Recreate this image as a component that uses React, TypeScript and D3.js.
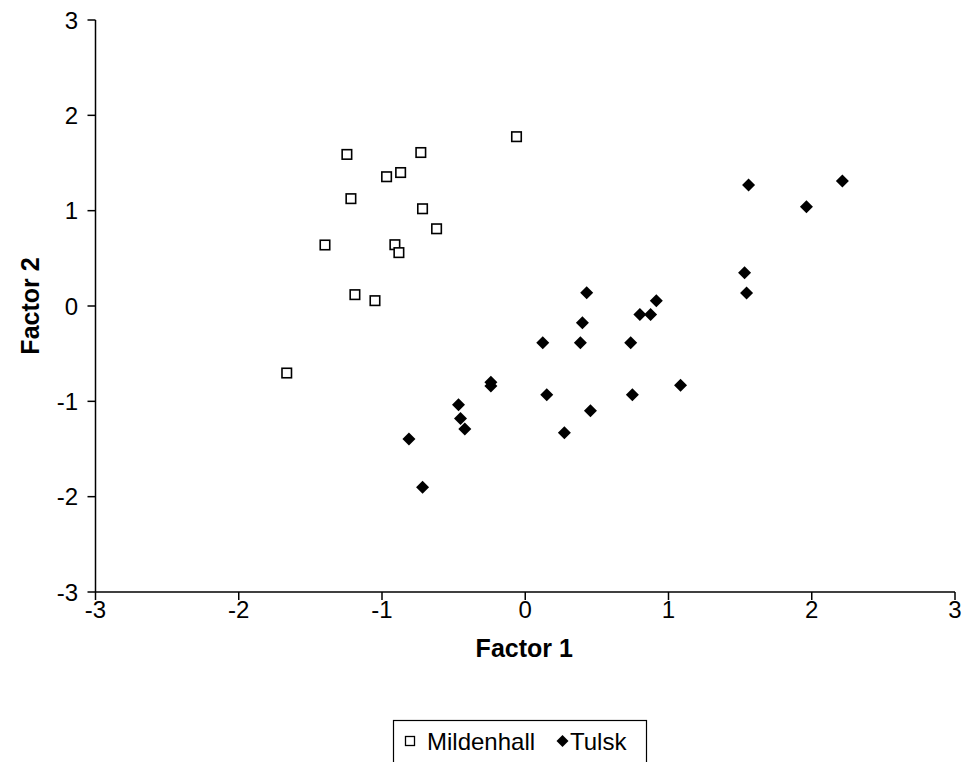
import React from 'react';
import * as d3 from 'd3';

// Factor scores
const mildenhallX = [-0.061, -1.245, -0.729, -0.968, -0.87, -1.217, -0.717, -0.619, -1.398, -0.91, -0.882, -1.189, -1.049, -1.665];
const mildenhallY = [1.776, 1.59, 1.61, 1.356, 1.4, 1.126, 1.02, 0.81, 0.64, 0.643, 0.56, 0.119, 0.056, -0.703];

const tulskX = [0.429, 0.915, 0.399, 0.8, 0.875, 0.122, 0.385, 0.736, -0.24, -0.24, 1.084, 0.15, 0.748, -0.466, 0.455, -0.452, -0.422, 0.273, -0.812, -0.717, 1.559, 2.214, 1.963, 1.531, 1.545];
const tulskY = [0.14, 0.056, -0.175, -0.09, -0.09, -0.385, -0.385, -0.385, -0.8, -0.84, -0.83, -0.93, -0.93, -1.035, -1.1, -1.18, -1.29, -1.33, -1.395, -1.9, 1.27, 1.31, 1.04, 0.35, 0.136];

const ticks = [-3, -2, -1, 0, 1, 2, 3];
const seriesNames = ['Mildenhall', 'Tulsk'];

const W = 962;
const H = 762;
const FONT = '"Liberation Sans", Arial, sans-serif';

const App = () => {
  const x = d3.scaleLinear().domain([-3, 3]).range([95.5, 955]);
  const y = d3.scaleLinear().domain([-3, 3]).range([592, 20]);

  const diamond = (cx: number, cy: number, r = 6.5) =>
    `M${cx},${cy - r}L${cx + r},${cy}L${cx},${cy + r}L${cx - r},${cy}Z`;

  return (
    <svg width={W} height={H} style={{ position: 'absolute', left: 0, top: 0, background: '#fff' }} fontFamily={FONT}>
      <rect width={W} height={H} fill="#fff" />

      {/* axes */}
      <line x1={x(-3)} x2={x(-3)} y1={y(3)} y2={y(-3)} stroke="#000" strokeWidth={1.5} />
      <line x1={x(-3)} x2={x(3)} y1={y(-3)} y2={y(-3)} stroke="#000" strokeWidth={1.5} />

      {ticks.map(t => (
        <g key={'y' + t}>
          <line x1={x(-3) - 8} x2={x(-3)} y1={y(t)} y2={y(t)} stroke="#000" strokeWidth={1.5} />
          <text x={78} y={y(t)} dy="0.36em" textAnchor="end" fontSize={24}>{t}</text>
        </g>
      ))}
      {ticks.map(t => (
        <g key={'x' + t}>
          <line x1={x(t)} x2={x(t)} y1={y(-3)} y2={y(-3) + 8} stroke="#000" strokeWidth={1.5} />
          <text x={x(t)} y={618} textAnchor="middle" fontSize={24}>{t}</text>
        </g>
      ))}

      <text x={x(0) - 1} y={657} textAnchor="middle" fontSize={25} fontWeight="bold">Factor 1</text>
      <text transform={`translate(39,${y(0)}) rotate(-90)`} textAnchor="middle" fontSize={25} fontWeight="bold">Factor 2</text>

      {/* Mildenhall: open squares */}
      {mildenhallX.map((v, i) => (
        <rect key={'m' + i} x={x(v) - 4.75} y={y(mildenhallY[i]) - 4.75} width={9.5} height={9.5}
          fill="#fff" stroke="#000" strokeWidth={1.6} />
      ))}

      {/* Tulsk: filled diamonds */}
      {tulskX.map((v, i) => (
        <path key={'t' + i} d={diamond(x(v), y(tulskY[i]))} fill="#000" />
      ))}

      {/* legend */}
      <rect x={393.5} y={720.5} width={253} height={60} fill="#fff" stroke="#000" strokeWidth={1.2} />
      <rect x={405.5} y={736.5} width={9} height={9} fill="#fff" stroke="#000" strokeWidth={1.3} />
      <text x={427} y={750} fontSize={24}>{seriesNames[0]}</text>
      <path d={diamond(562.5, 741, 6)} fill="#000" />
      <text x={570} y={750} fontSize={24}>{seriesNames[1]}</text>
    </svg>
  );
};

export default App;
